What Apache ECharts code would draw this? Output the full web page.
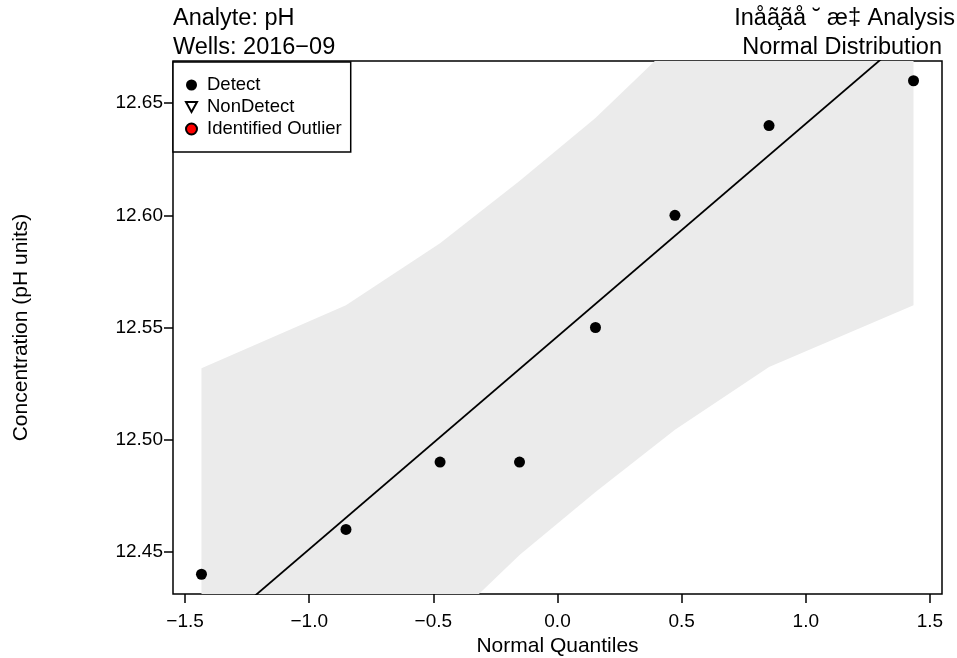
<!DOCTYPE html>
<html><head><meta charset="utf-8">
<script src="https://cdn.jsdelivr.net/npm/echarts@6/dist/echarts.min.js"></script>
<style>html,body{margin:0;padding:0;background:#fff}#c{width:957px;height:658px}</style>
</head><body><div id="c"></div>
<script>
// Normal quantiles (x) and concentrations (y)
const quantiles = [-1.434, -0.852, -0.473, -0.153, 0.153, 0.473, 0.852, 1.434];
const concentrations = [12.44, 12.46, 12.49, 12.49, 12.55, 12.60, 12.64, 12.66];
// Confidence band
const bandUpper = [12.5318, 12.5599, 12.5876, 12.6153, 12.6434, 12.6774, 12.721, 12.79];
const bandLower = [12.302, 12.371, 12.4146, 12.4486, 12.4767, 12.5044, 12.5324, 12.5599];
// Fitted line end points
const fitQ = [-1.55, 1.55];
const fitC = [12.399, 12.693];
const xTicks = [-1.5, -1.0, -0.5, 0.0, 0.5, 1.0, 1.5];
const yTicks = [12.45, 12.50, 12.55, 12.60, 12.65];
const xRange = [-1.5487, 1.5487];
const yRange = [12.4312, 12.6688];
const titleLeft = ['Analyte: pH', 'Wells: 2016\u221209'];
const titleRight = ['In\u00e5\u00e3\u0327\u00e3\u00e5 \u02d8 \u00e6\u2021 Analysis', 'Normal Distribution'];

const FONT = '"Liberation Sans", Arial, Helvetica, sans-serif';
const chart = echarts.init(document.getElementById('c'), null, {renderer: 'canvas'});
const fmtMinus = s => s.replace('-', '\u2212');

chart.setOption({
  animation: false,
  backgroundColor: '#fff',
  textStyle: {fontFamily: FONT, color: '#000'},
  grid: {left: 173, right: 15, top: 61, bottom: 64, show: true, borderColor: '#000', borderWidth: 1.5, backgroundColor: 'transparent', containLabel: false, outerBoundsMode: 'none'},
  xAxis: {
    type: 'value', min: xRange[0], max: xRange[1],
    name: 'Normal Quantiles', nameLocation: 'middle', nameGap: 41,
    nameTextStyle: {fontSize: 21, fontFamily: FONT, color: '#000'},
    axisLine: {show: false, onZero: false},
    splitLine: {show: false},
    axisTick: {show: true, customValues: xTicks, length: 9, lineStyle: {color: '#000', width: 1.5}},
    axisLabel: {customValues: xTicks, margin: 18, fontSize: 19, fontFamily: FONT, color: '#000', formatter: v => fmtMinus(v.toFixed(1))}
  },
  yAxis: {
    type: 'value', min: yRange[0], max: yRange[1],
    name: 'Concentration (pH units)', nameLocation: 'middle', nameGap: 141,
    nameTextStyle: {fontSize: 21, fontFamily: FONT, color: '#000'},
    axisLine: {show: false, onZero: false},
    splitLine: {show: false},
    axisTick: {show: true, customValues: yTicks, length: 9, lineStyle: {color: '#000', width: 1.5}},
    axisLabel: {customValues: yTicks, margin: 10, fontSize: 19, fontFamily: FONT, color: '#000', formatter: v => v.toFixed(2)}
  },
  legend: {
    orient: 'vertical', left: 173, top: 62,
    backgroundColor: '#fff', borderColor: '#000', borderWidth: 1.5, borderRadius: 0,
    padding: [12, 9, 12, 12],
    itemWidth: 11, itemHeight: 11, itemGap: 0,
    textStyle: {fontSize: 18.5, fontFamily: FONT, color: '#000', lineHeight: 22, padding: [0, 0, 0, 5]},
    data: [
      {name: 'Detect', icon: 'circle'},
      {name: 'NonDetect', icon: 'path://M0,0L10,0L5,9Z'},
      {name: 'Identified Outlier', icon: 'circle'}
    ],
    selectedMode: false
  },
  graphic: [
    {type: 'text', left: 173, top: 7, style: {text: titleLeft[0], font: '23.5px ' + FONT, fill: '#000'}},
    {type: 'text', left: 173, top: 36, style: {text: titleLeft[1], font: '23.5px ' + FONT, fill: '#000'}},
    {type: 'text', right: 2, top: 7, style: {text: titleRight[0], font: '23.5px ' + FONT, fill: '#000'}},
    {type: 'text', right: 15, top: 36, style: {text: titleRight[1], font: '23.5px ' + FONT, fill: '#000'}}
  ],
  series: [
    {
      type: 'custom', name: 'band', clip: true, silent: true, z: 1,
      data: [[0, 12.5]],
      renderItem: function (params, api) {
        const pts = [];
        for (let i = 0; i < quantiles.length; i++) pts.push(api.coord([quantiles[i], bandUpper[i]]));
        for (let i = quantiles.length - 1; i >= 0; i--) pts.push(api.coord([quantiles[i], bandLower[i]]));
        return {type: 'polygon', shape: {points: pts}, style: {fill: '#ebebeb', stroke: null}};
      }
    },
    {
      type: 'line', name: 'fit', data: fitQ.map((q, i) => [q, fitC[i]]),
      symbol: 'none', clip: true, z: 2, silent: true,
      lineStyle: {color: '#000', width: 1.8}
    },
    {
      type: 'scatter', name: 'Detect', z: 3,
      data: quantiles.map((q, i) => [q, concentrations[i]]),
      symbol: 'circle', symbolSize: 11,
      itemStyle: {color: '#000', opacity: 1}
    },
    {
      type: 'scatter', name: 'NonDetect', data: [],
      symbol: 'path://M0,0L10,0L5,9Z', symbolSize: 10,
      itemStyle: {color: '#fff', borderColor: '#000', borderWidth: 1.5, opacity: 1}
    },
    {
      type: 'scatter', name: 'Identified Outlier', data: [],
      symbol: 'circle', symbolSize: 11,
      itemStyle: {color: '#ff0000', borderColor: '#000', borderWidth: 1, opacity: 1}
    }
  ]
});
</script>
</body></html>
